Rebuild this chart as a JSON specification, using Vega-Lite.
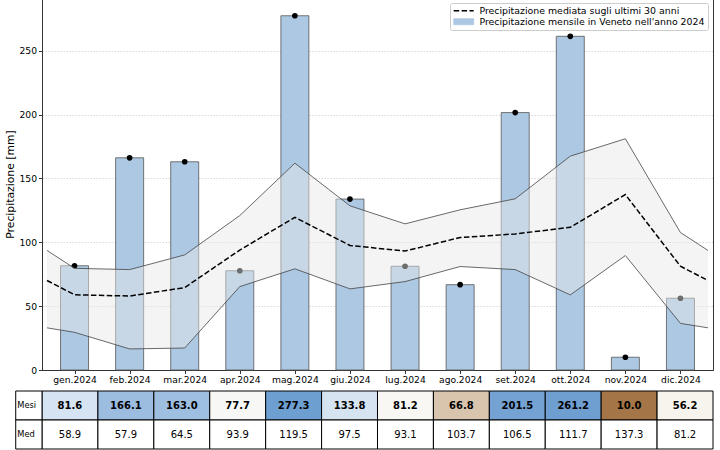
{
  "$schema": "https://vega.github.io/schema/vega-lite/v6.json",
  "padding": {"left": 4, "top": -3, "right": 0, "bottom": 0},
  "spacing": 4,
  "config": {
    "font": "DejaVu Sans",
    "axis": {
      "labelFont": "DejaVu Sans", "labelFontSize": 9.2, "labelColor": "black",
      "titleFont": "DejaVu Sans", "titleFontSize": 10.8, "titleFontWeight": "normal", "titleColor": "black",
      "domainColor": "#333333", "tickColor": "#333333", "tickSize": 3.5, "labelPadding": 2
    },
    "legend": {
      "labelFont": "DejaVu Sans", "labelFontSize": 9.4, "labelColor": "black", "labelLimit": 0
    }
  },
  "datasets": {
    "mesi": [
      {"m": 1, "val": 81.6, "med": 58.9},
      {"m": 2, "val": 166.1, "med": 57.9},
      {"m": 3, "val": 163.0, "med": 64.5},
      {"m": 4, "val": 77.7, "med": 93.9},
      {"m": 5, "val": 277.3, "med": 119.5},
      {"m": 6, "val": 133.8, "med": 97.5},
      {"m": 7, "val": 81.2, "med": 93.1},
      {"m": 8, "val": 66.8, "med": 103.7},
      {"m": 9, "val": 201.5, "med": 106.5},
      {"m": 10, "val": 261.2, "med": 111.7},
      {"m": 11, "val": 10.0, "med": 137.3},
      {"m": 12, "val": 56.2, "med": 81.2}
    ],
    "clima": [
      {"m": 0.5, "sup": 93.6, "media": 70.05, "inf": 33.0},
      {"m": 1, "sup": 79.6, "media": 58.9, "inf": 29.5},
      {"m": 2, "sup": 78.6, "media": 57.9, "inf": 16.5},
      {"m": 3, "sup": 90.1, "media": 64.5, "inf": 17.2},
      {"m": 4, "sup": 120.9, "media": 93.9, "inf": 65.3},
      {"m": 5, "sup": 161.9, "media": 119.5, "inf": 79.2},
      {"m": 6, "sup": 128.5, "media": 97.5, "inf": 63.5},
      {"m": 7, "sup": 114.4, "media": 93.1, "inf": 69.2},
      {"m": 8, "sup": 125.4, "media": 103.7, "inf": 81.0},
      {"m": 9, "sup": 134.0, "media": 106.5, "inf": 78.6},
      {"m": 10, "sup": 167.4, "media": 111.7, "inf": 58.8},
      {"m": 11, "sup": 181.0, "media": 137.3, "inf": 89.6},
      {"m": 12, "sup": 107.6, "media": 81.2, "inf": 36.5},
      {"m": 12.5, "sup": 93.6, "media": 70.05, "inf": 33.0}
    ]
  },
  "vconcat": [
    {
      "width": 671,
      "height": 372,
      "view": {"stroke": "#333333", "strokeWidth": 1},
      "encoding": {
        "x": {
          "field": "m", "type": "quantitative",
          "scale": {"domain": [0.5, 12.5], "nice": false, "zero": false},
          "axis": {
            "title": null, "grid": false, "values": [1,2,3,4,5,6,7,8,9,10,11,12],
            "labelFlush": false, "labelOverlap": false,
            "labelExpr": "['gen','feb','mar','apr','mag','giu','lug','ago','set','ott','nov','dic'][datum.value - 1] + '.2024'"
          }
        }
      },
      "layer": [
        {
          "data": {"name": "mesi"},
          "mark": {"type": "bar", "width": 28, "opacity": 1},
          "encoding": {
            "y": {
              "field": "val", "type": "quantitative",
              "scale": {"domain": [0, 291.2], "nice": false},
              "axis": {
                "title": "Precipitazione [mm]", "values": [0, 50, 100, 150, 200, 250],
                "grid": true, "gridColor": "#cfcfcf", "gridDash": [1.5, 1.5], "gridWidth": 0.8,
                "titlePadding": 3
              }
            },
            "color": {
              "datum": "Precipitazione mensile in Veneto nell'anno 2024", "type": "nominal",
              "scale": {
                "domain": ["Precipitazione mediata sugli ultimi 30 anni", "Precipitazione mensile in Veneto nell'anno 2024"],
                "range": ["black", "#adc8e3"]
              },
              "legend": {
                "title": null, "orient": "top-right", "offset": 5,
                "padding": 3, "rowPadding": 0,
                "strokeColor": "#cccccc", "fillColor": "white", "cornerRadius": 2,
                "symbolSize": 100, "symbolOffset": 6, "labelOffset": 11,
                "labelFontSize": 9.4, "labelLimit": 0,
                "symbolType": {"expr": "datum.value === 'Precipitazione mediata sugli ultimi 30 anni' ? 'M-2,0H2' : 'M-2,-0.6H2V0.6H-2Z'"},
                "symbolStrokeColor": {"expr": "datum.value === 'Precipitazione mediata sugli ultimi 30 anni' ? 'black' : '#666666'"},
                "symbolDash": {"expr": "datum.value === 'Precipitazione mediata sugli ultimi 30 anni' ? [5.5, 2.4] : [1, 0]"},
                "symbolStrokeWidth": {"expr": "datum.value === 'Precipitazione mediata sugli ultimi 30 anni' ? 1.5 : 0.8"}
              }
            }
          }
        },
        {
          "data": {"name": "mesi"},
          "mark": {"type": "bar", "width": 28, "fill": null, "fillOpacity": 0, "stroke": "#555555", "strokeWidth": 0.8},
          "encoding": {
            "y": {"field": "val", "type": "quantitative"}
          }
        },
        {
          "data": {"name": "mesi"},
          "mark": {"type": "point", "filled": true, "size": 32, "opacity": 1, "color": "black"},
          "encoding": {
            "y": {"field": "val", "type": "quantitative"}
          }
        },
        {
          "data": {"name": "clima"},
          "mark": {"type": "area", "color": "#e8e8e8", "opacity": 0.47},
          "encoding": {
            "y": {"field": "sup", "type": "quantitative"},
            "y2": {"field": "inf"}
          }
        },
        {
          "data": {"name": "clima"},
          "mark": {"type": "line", "color": "#444444", "strokeWidth": 0.8},
          "encoding": {
            "y": {"field": "sup", "type": "quantitative"}
          }
        },
        {
          "data": {"name": "clima"},
          "mark": {"type": "line", "color": "#444444", "strokeWidth": 0.8},
          "encoding": {
            "y": {"field": "inf", "type": "quantitative"}
          }
        },
        {
          "data": {"name": "clima"},
          "mark": {"type": "line", "strokeWidth": 1.5, "strokeDash": [5.5, 2.4]},
          "encoding": {
            "y": {"field": "media", "type": "quantitative"},
            "color": {"datum": "Precipitazione mediata sugli ultimi 30 anni", "type": "nominal"}
          }
        }
      ]
    },
    {
      "width": 671,
      "height": 58,
      "view": {"stroke": null},
      "layer": [
        {
          "data": {"name": "mesi"},
          "mark": {"type": "rect", "width": 55.92, "stroke": "black", "strokeWidth": 1},
          "encoding": {
            "x": {"field": "m", "type": "quantitative", "scale": {"domain": [0.5, 12.5], "nice": false, "zero": false}, "axis": null},
            "y": {"datum": "Mesi", "type": "nominal", "scale": {"domain": ["Mesi", "Med"], "paddingInner": 0, "paddingOuter": 0}, "axis": null},
            "fill": {
              "field": "val", "type": "nominal", "legend": null,
              "scale": {
                "domain": [81.6, 166.1, 163.0, 77.7, 277.3, 133.8, 81.2, 66.8, 201.5, 261.2, 10.0, 56.2],
                "range": ["#d5e3f2", "#9cbde0", "#9fbfe1", "#f7f7f6", "#6e9fd1", "#d6e4f2", "#f8f7f4", "#d9c4ae", "#73a2d3", "#6f9fd1", "#a47546", "#f7f4ee"]
              }
            }
          }
        },
        {
          "data": {"name": "mesi"},
          "mark": {"type": "rect", "width": 55.92, "stroke": "black", "strokeWidth": 1, "fill": "white"},
          "encoding": {
            "x": {"field": "m", "type": "quantitative"},
            "y": {"datum": "Med", "type": "nominal"}
          }
        },
        {
          "data": {"name": "mesi"},
          "mark": {"type": "text", "fontSize": 10, "fontWeight": "bold", "color": "black", "font": "DejaVu Sans"},
          "encoding": {
            "x": {"field": "m", "type": "quantitative"},
            "y": {"datum": "Mesi", "type": "nominal"},
            "text": {"field": "val", "type": "quantitative", "format": ".1f"}
          }
        },
        {
          "data": {"name": "mesi"},
          "mark": {"type": "text", "fontSize": 10, "color": "black", "font": "DejaVu Sans"},
          "encoding": {
            "x": {"field": "m", "type": "quantitative"},
            "y": {"datum": "Med", "type": "nominal"},
            "text": {"field": "med", "type": "quantitative", "format": ".1f"}
          }
        },
        {
          "data": {"values": [{"riga": "Mesi"}, {"riga": "Med"}]},
          "mark": {"type": "rect", "stroke": "black", "strokeWidth": 1, "fill": "white"},
          "encoding": {
            "x": {"datum": 0.03, "type": "quantitative"},
            "x2": {"datum": 0.5},
            "y": {"field": "riga", "type": "nominal"}
          }
        },
        {
          "data": {"values": [{"riga": "Mesi"}, {"riga": "Med"}]},
          "mark": {"type": "text", "align": "left", "fontSize": 8.3, "color": "black", "font": "DejaVu Sans"},
          "encoding": {
            "x": {"datum": 0.058, "type": "quantitative"},
            "y": {"field": "riga", "type": "nominal"},
            "text": {"field": "riga"}
          }
        }
      ]
    }
  ]
}
